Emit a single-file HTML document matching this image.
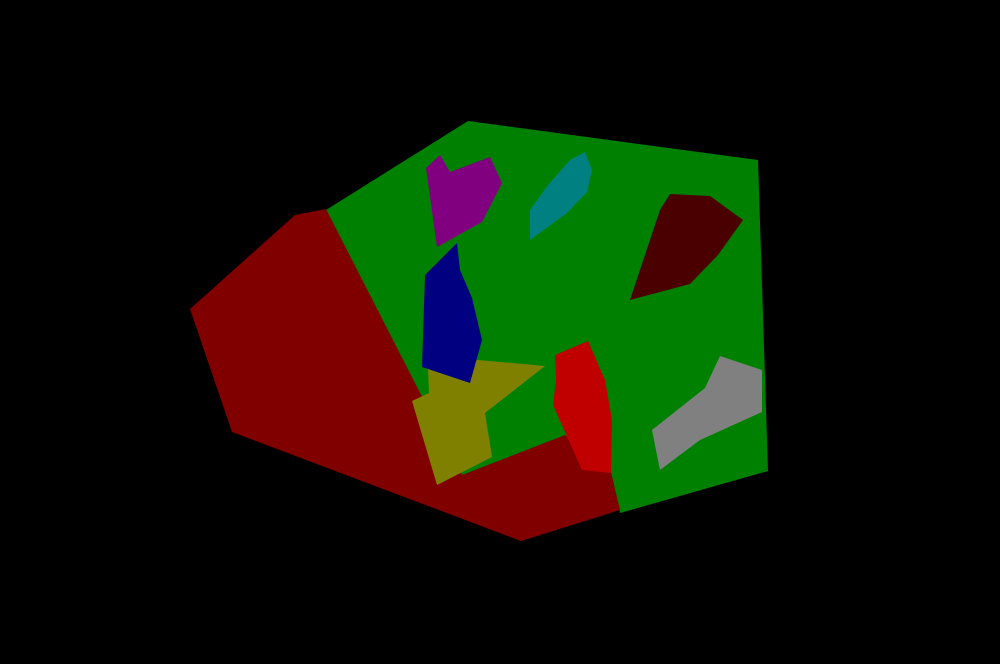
<!DOCTYPE html>
<html><head><meta charset="utf-8"><style>html,body{margin:0;background:#000}svg{display:block}</style></head>
<body>
<svg width="1000" height="664">
<rect width="1000" height="664" fill="#000"/>
<polygon fill="#008000" points="326,210 468,121 758,160 768,471 620,513 611,473 462,475"/>
<polygon fill="#800000" points="190,309 295,215 326,209 462,475 565,435 611,472 620,510 521,541 232,432"/>
<polygon fill="#808000" points="412,401 429,393 428,369 478,360 545,366 485,413 492,457 437,485"/>
<polygon fill="#000080" points="425,275 457,243 460,270 472,298 482,340 470,383 422,367"/>
<polygon fill="#800080" points="426,168 440,155 450,172 490,157 502,183 482,222 437,247"/>
<polygon fill="#008080" points="530,210 548,185 570,160 585,152 592,170 587,192 567,213 530,240"/>
<polygon fill="#4b0000" points="630,300 660,210 670,194 710,196 743,220 718,255 690,284"/>
<polygon fill="#c00000" points="555,355 588,341 605,380 612,420 611,473 582,470 553,405 556,380"/>
<polygon fill="#808080" points="652,430 705,388 720,356 762,370 762,412 700,440 660,470"/>
</svg>
</body></html>
